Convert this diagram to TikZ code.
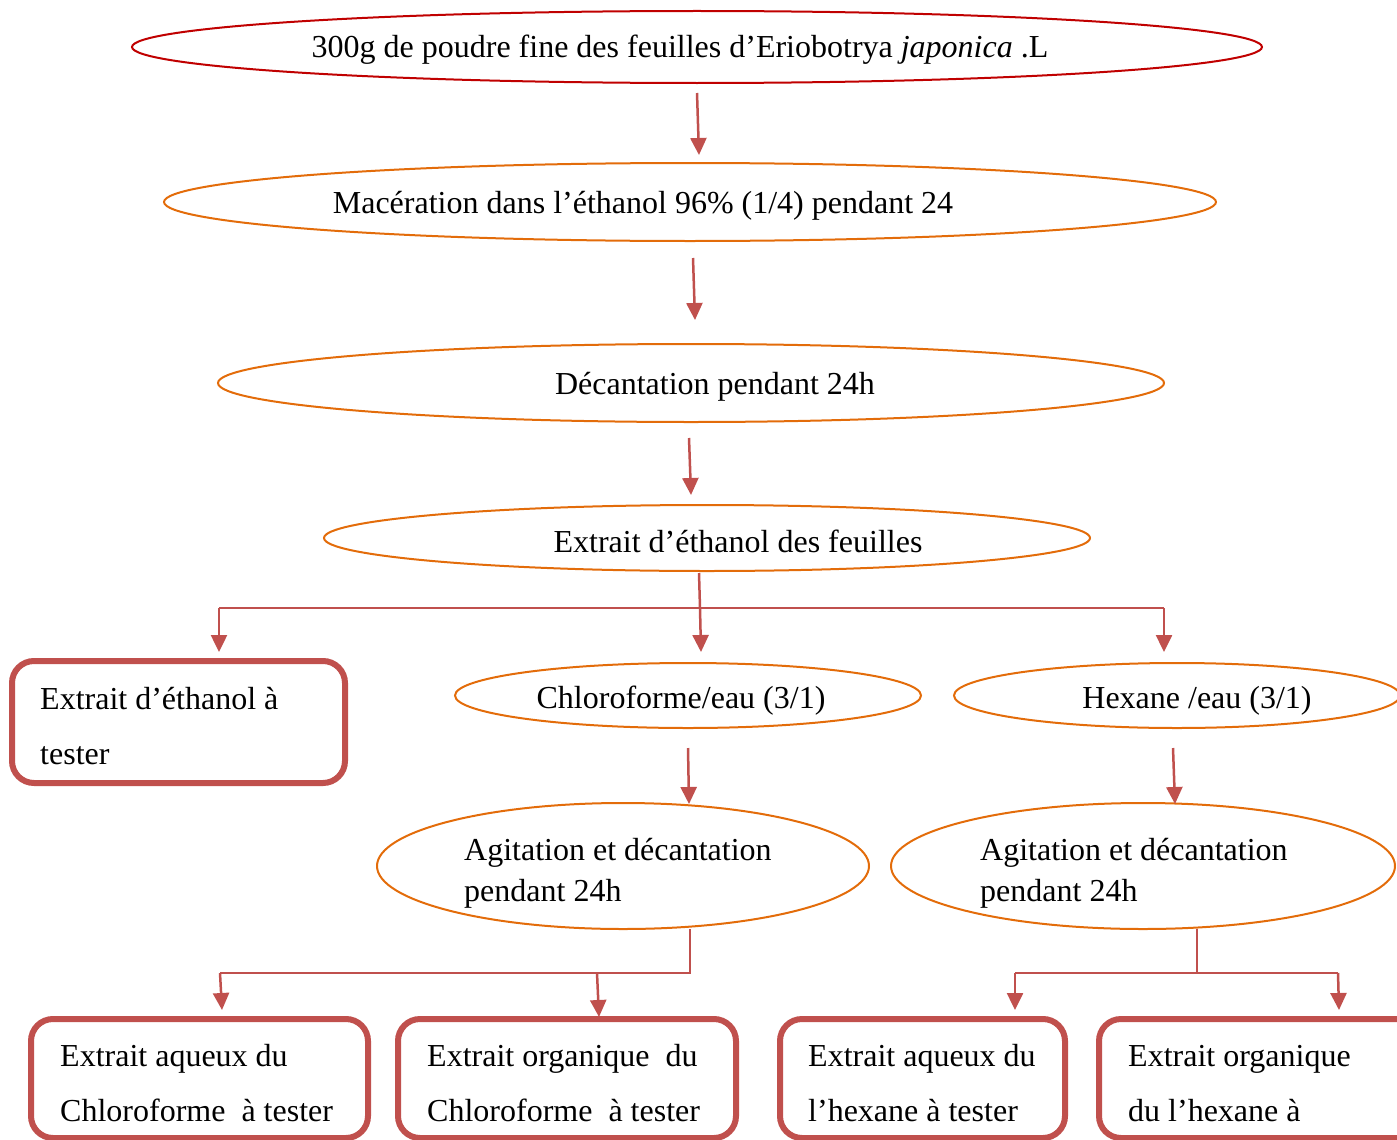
\documentclass[tikz,border=0pt]{standalone}
\usepackage{fontspec}
\setmainfont{Liberation Serif}
\usetikzlibrary{arrows.meta,shapes.geometric}
\definecolor{redE}{HTML}{C00000}
\definecolor{orE}{HTML}{E36C0A}
\definecolor{arr}{HTML}{C0504D}
\begin{document}
\begin{tikzpicture}[x=1pt,y=-1pt,
  ell/.style={draw=orE,line width=2pt,ellipse,inner sep=0pt},
  box/.style={draw=arr,line width=6pt,rounded corners=22pt},
  lbl/.style={inner sep=0pt,font=\fontsize{32}{38}\selectfont},
  conn/.style={draw=arr,line width=2.5pt},
  arrw/.style={conn,-{Triangle[width=16pt,length=17pt]}}]
\useasboundingbox (0,0) rectangle (1397,1140);
\begin{scope}
\clip (0,0) rectangle (1397,1140);
% ellipses
\node[ell,draw=redE,minimum width=1130pt,minimum height=72pt] (e1) at (697,47) {};
\node[ell,minimum width=1052pt,minimum height=78pt] (e2) at (690,202) {};
\node[ell,minimum width=946pt,minimum height=78pt] (e3) at (691,383) {};
\node[ell,minimum width=766pt,minimum height=66pt] (e4) at (707,538) {};
\node[ell,minimum width=466pt,minimum height=65pt] (e5) at (688,695.5) {};
\node[ell,minimum width=446pt,minimum height=65pt] (e6) at (1177,695.5) {};
\node[ell,minimum width=492pt,minimum height=126pt] (e7) at (623,866) {};
\node[ell,minimum width=504pt,minimum height=126pt] (e8) at (1143,866) {};
% boxes
\draw[box] (12,661) rectangle (345,783);
\draw[box] (31,1019) rectangle (368,1138);
\draw[box] (398,1019) rectangle (736,1138);
\draw[box] (780,1019) rectangle (1065,1138);
\draw[box] (1099,1019) rectangle (1420,1138);
\coordinate (bA) at (222,1010);
\coordinate (bB) at (599,1017);
\coordinate (bC) at (1015,1010);
\coordinate (bD) at (1339,1010);
\coordinate (b1t) at (219,652);
% texts
\node[lbl,anchor=base] (t1) at (680,58) {300g de poudre fine des feuilles d’Eriobotrya \textit{japonica} .L};
\node[lbl,anchor=base] (t2) at (643,213) {Macération dans l’éthanol 96\% (1/4) pendant 24};
\node[lbl,anchor=base] (t3) at (715,394) {Décantation pendant 24h};
\node[lbl,anchor=base] (t4) at (738,552) {Extrait d’éthanol des feuilles};
\node[lbl,anchor=base] (t5) at (681,708) {Chloroforme/eau (3/1)};
\node[lbl,anchor=base] (t6) at (1197,708) {Hexane /eau (3/1)};
\node[lbl,anchor=base west] (t7a) at (40,709) {Extrait d’éthanol à};
\node[lbl,anchor=base west] (t7b) at (40,764) {tester};
\node[lbl,anchor=base west] (t8a) at (464,860) {Agitation et décantation};
\node[lbl,anchor=base west] (t8b) at (464,901) {pendant 24h};
\node[lbl,anchor=base west] (t9a) at (980,860) {Agitation et décantation};
\node[lbl,anchor=base west] (t9b) at (980,901) {pendant 24h};
\node[lbl,anchor=base west] (tAa) at (60,1066) {Extrait aqueux du};
\node[lbl,anchor=base west] (tAb) at (60,1121) {Chloroforme\ \ à tester};
\node[lbl,anchor=base west] (tBa) at (427,1066) {Extrait organique\ \ du};
\node[lbl,anchor=base west] (tBb) at (427,1121) {Chloroforme\ \ à tester};
\node[lbl,anchor=base west] (tCa) at (808,1066) {Extrait aqueux du};
\node[lbl,anchor=base west] (tCb) at (808,1121) {l’hexane à tester};
\node[lbl,anchor=base west] (tDa) at (1128,1066) {Extrait organique};
\node[lbl,anchor=base west] (tDb) at (1128,1121) {du l’hexane à};
% connector points
\coordinate (a1s) at (697,93);   \coordinate (a1e) at (699,155);
\coordinate (a2s) at (693,258);  \coordinate (a2e) at (695,320);
\coordinate (a3s) at (689,438);  \coordinate (a3e) at (691,495);
\coordinate (s4a) at (699,573);  \coordinate (s4) at (700,608);
\coordinate (hl) at (219,608);   \coordinate (hr) at (1164,608);
\coordinate (a5e) at (701,652);  \coordinate (a6e) at (1164,652);
\coordinate (a7s) at (688,748);  \coordinate (a7e) at (689,804);
\coordinate (a8s) at (1173,748); \coordinate (a8e) at (1175,804);
\coordinate (s7a) at (690,929);  \coordinate (s7) at (690,973);
\coordinate (h7l) at (220,973);  \coordinate (h7m) at (597,973);
\coordinate (s8a) at (1197,929); \coordinate (s8) at (1197,973);
\coordinate (h8l) at (1015,973); \coordinate (h8r) at (1338,973);
% connectors
\draw[arrw] (a1s) -- (a1e);
\draw[arrw] (a2s) -- (a2e);
\draw[arrw] (a3s) -- (a3e);
\draw[conn] (s4a) -- (s4);
\draw[conn] (hl) -- (hr);
\draw[arrw] (hl) -- (b1t);
\draw[arrw] (s4) -- (a5e);
\draw[arrw] (hr) -- (a6e);
\draw[arrw] (a7s) -- (a7e);
\draw[arrw] (a8s) -- (a8e);
\draw[conn] (s7a) -- (s7) -- (h7l);
\draw[arrw] (h7l) -- (bA);
\draw[arrw] (h7m) -- (bB);
\draw[conn] (s8a) -- (s8);
\draw[conn] (h8l) -- (h8r);
\draw[arrw] (h8l) -- (bC);
\draw[arrw] (h8r) -- (bD);
\end{scope}
\end{tikzpicture}
\end{document}
